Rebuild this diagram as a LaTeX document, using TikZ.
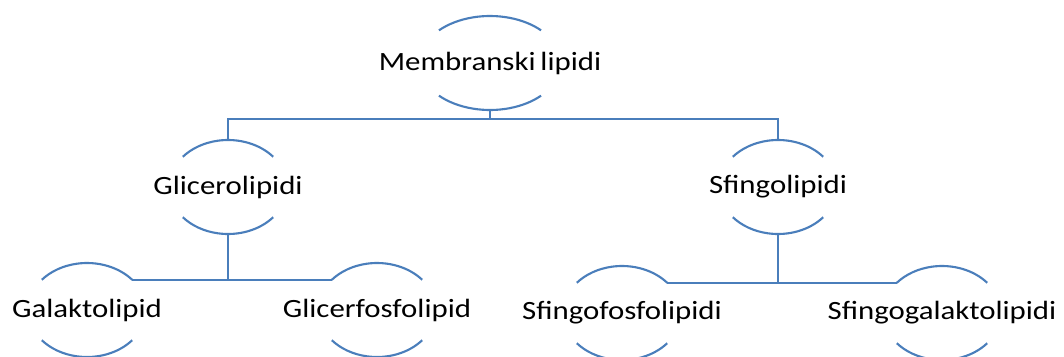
\documentclass[tikz,border=0pt]{standalone}
\usepackage{fontspec}
\setmainfont{Carlito}[FakeStretch=1.17]
\definecolor{rimblue}{RGB}{74,126,187}

\tikzstyle{t} = [text=black, font=\fontsize{15}{18}\selectfont, inner sep=0pt]
\tikzstyle{rim} = [draw=rimblue, line width=1.2pt]
\tikzstyle{l} = [draw=rimblue, line width=1.2pt]

\begin{document}
\begin{tikzpicture}[x=0.02cm, y=0.02cm]
    \useasboundingbox (0,0) rectangle (1064,356);
    % Place nodes
    \node [t] (mem) at (490,293) {Membranski\hspace{-0.08em} lipidi};
    \node [t] (gli) at (228,169) {Glicerolipidi};
    \node [t] (sfi) at (778,169) {Sfingolipidi};
    \node [t] (gal) at (87,46) {Galaktolipid};
    \node [t] (glf) at (377,46) {Glicerfosfolipid};
    \node [t] (sff) at (622,43) {Sfingofosfolipidi};
    \node [t] (sfg) at (942,43) {Sfingogalaktolipidi};

    % Rims above and below
    \foreach \n/\rw/\ang in {mem/71/44, gli/59/40, sfi/59/40, gal/59/40, glf/59/40, sff/59/40, sfg/59/40} {
        \draw [rim] ([shift={({\rw*cos(\ang)},{47*sin(\ang)})}]\n.center) arc [start angle=\ang, end angle=180-\ang, x radius=\rw, y radius=47];
        \draw [rim] ([shift={({\rw*cos(\ang)},{-47*sin(\ang)})}]\n.center) arc [start angle=-\ang, end angle=-180+\ang, x radius=\rw, y radius=47];
        \coordinate (\n-t) at ([shift={(0,47)}]\n.center);
        \coordinate (\n-b) at ([shift={(0,-47)}]\n.center);
        \coordinate (\n-tr) at ([shift={({\rw*cos(\ang)},{47*sin(\ang)})}]\n.center);
        \coordinate (\n-tl) at ([shift={({-\rw*cos(\ang)},{47*sin(\ang)})}]\n.center);
    }

    % Draw edges
    \coordinate (bus) at (490,237);
    \path [l] (mem-b) -- (bus);
    \path [l] (bus) -| (gli-t);
    \path [l] (bus) -| (sfi-t);
    \path [l] (gli-b) -- (gli-b |- gal-tr);
    \path [l] (gal-tr) -- (glf-tl);
    \path [l] (sfi-b) -- (sfi-b |- sff-tr);
    \path [l] (sff-tr) -- (sfg-tl);

\end{tikzpicture}
\end{document}
